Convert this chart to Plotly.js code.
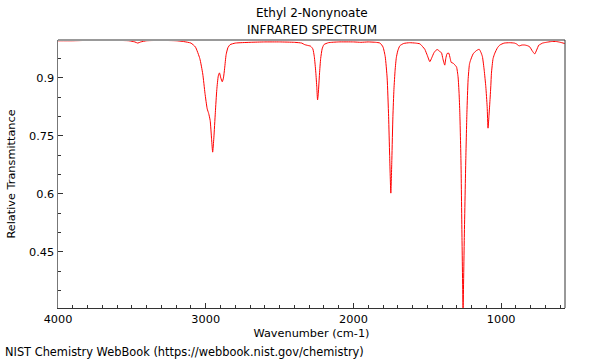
<!DOCTYPE html>
<html>
<head>
<meta charset="utf-8">
<script src="https://cdn.plot.ly/plotly-3.0.1.min.js"></script>
<style>html,body{margin:0;padding:0;background:#fff;}#chart{width:600px;height:360px;}</style>
</head>
<body>
<div id="chart"></div>
<script>
const wavenumber = [4000,3900,3800,3700,3600,3520,3480,3460,3440,3400,3300,3200,3150,3100,3070,3040,3020,3005,2990,2980,2970,2960,2953,2945,2935,2925,2915,2907,2898,2888,2880,2872,2862,2850,2835,2800,2700,2600,2500,2400,2350,2330,2310,2290,2275,2265,2255,2248,2243,2238,2230,2222,2212,2200,2170,2100,2000,1950,1900,1850,1820,1800,1785,1772,1762,1755,1747,1740,1733,1726,1718,1710,1700,1686,1660,1620,1580,1550,1530,1517,1500,1483,1470,1455,1440,1430,1415,1404,1395,1382,1375,1366,1355,1345,1338,1325,1310,1302,1292,1285,1280,1272,1265,1258,1250,1240,1232,1224,1215,1208,1190,1170,1149,1137,1127,1115,1104,1095,1089,1083,1077,1070,1066,1055,1043,1025,1009,980,942,910,897,880,874,860,840,820,806,790,773,760,745,739,720,694,660,626,600,570];
const transmittance = [0.996,0.996,0.997,0.997,0.997,0.996,0.993,0.990,0.993,0.996,0.997,0.996,0.994,0.990,0.980,0.950,0.910,0.860,0.820,0.808,0.790,0.740,0.708,0.745,0.810,0.870,0.905,0.913,0.900,0.890,0.900,0.925,0.960,0.978,0.986,0.990,0.992,0.993,0.993,0.992,0.990,0.986,0.984,0.982,0.975,0.955,0.915,0.875,0.843,0.860,0.910,0.950,0.975,0.986,0.991,0.993,0.993,0.992,0.993,0.992,0.990,0.980,0.955,0.900,0.800,0.700,0.602,0.690,0.800,0.870,0.920,0.952,0.970,0.983,0.989,0.991,0.990,0.988,0.980,0.974,0.958,0.942,0.952,0.965,0.972,0.973,0.968,0.965,0.950,0.933,0.950,0.963,0.964,0.950,0.940,0.938,0.932,0.928,0.903,0.860,0.810,0.680,0.480,0.305,0.480,0.680,0.810,0.895,0.935,0.945,0.962,0.970,0.974,0.966,0.955,0.920,0.877,0.826,0.770,0.800,0.835,0.880,0.912,0.950,0.964,0.978,0.985,0.990,0.991,0.990,0.988,0.983,0.983,0.985,0.985,0.983,0.980,0.970,0.962,0.972,0.985,0.986,0.990,0.992,0.994,0.994,0.992,0.989];
const xTickVals = [4000,3000,2000,1000];
const xTickText = ['4000','3000','2000','1000'];
const yTickVals = [0.45,0.6,0.75,0.9];
const yTickText = ['0.45','0.6','0.75','0.9'];
const titleLine1 = 'Ethyl 2-Nonynoate';
const titleLine2 = 'INFRARED SPECTRUM';
const xTitle = 'Wavenumber (cm-1)';
const yTitle = 'Relative Transmittance';
const footer = 'NIST Chemistry WebBook (https://webbook.nist.gov/chemistry)';

const L = 58, R = 35, T = 40, B = 52;
const PW = 600 - L - R, PH = 360 - T - B;
const font = {family: 'DejaVu Sans', size: 11.3, color: '#000'};
const tfont = {family: 'DejaVu Sans', size: 12, color: '#000'};
const trace = {
  x: wavenumber, y: transmittance, type: 'scatter', mode: 'lines',
  line: {color: '#ff0000', width: 1, shape: 'spline', smoothing: 0.5},
  hoverinfo: 'skip'
};
const layout = {
  width: 600, height: 360,
  margin: {l: L, r: R, t: T, b: B, pad: 0},
  paper_bgcolor: '#fff', plot_bgcolor: '#fff',
  font: font,
  showlegend: false,
  title: {text: ''},
  xaxis: {
    range: [4000, 568], showgrid: false, zeroline: false,
    showline: true, linecolor: '#333', linewidth: 1,
    tickmode: 'array', tickvals: xTickVals, ticktext: xTickText,
    ticks: 'inside', ticklen: 5, tickcolor: '#333', tickwidth: 1,
    minor: {dtick: 100, tick0: 0, ticks: 'inside', ticklen: 3, tickcolor: '#333', tickwidth: 1, showgrid: false},
    tickfont: font,
    title: {text: xTitle, font: font, standoff: 4}
  },
  yaxis: {
    range: [0.305, 0.998], showgrid: false, zeroline: false,
    showline: true, linecolor: '#777', linewidth: 1.5,
    tickmode: 'array', tickvals: yTickVals, ticktext: yTickText,
    ticks: 'inside', ticklen: 5, tickcolor: '#333', tickwidth: 1,
    minor: {dtick: 0.05, tick0: 0.3, ticks: 'inside', ticklen: 3, tickcolor: '#333', tickwidth: 1, showgrid: false},
    tickfont: font,
    title: {text: yTitle, font: font, standoff: 11}
  },
  shapes: [
    {type: 'line', xref: 'paper', yref: 'paper', x0: 0, x1: 1, y0: 1, y1: 1, line: {color: '#999', width: 2}},
    {type: 'line', xref: 'paper', yref: 'paper', x0: 1, x1: 1, y0: 0, y1: 1, line: {color: '#333', width: 1}}
  ],
  annotations: [
    {text: titleLine1, xref: 'paper', yref: 'paper', x: 0.5, y: (308 - 13) / PH, xanchor: 'center', yanchor: 'middle',
     showarrow: false, font: tfont},
    {text: titleLine2, xref: 'paper', yref: 'paper', x: 0.5, y: (308 - 30) / PH, xanchor: 'center', yanchor: 'middle',
     showarrow: false, font: tfont},
    {text: footer, xref: 'paper', yref: 'paper', x: -(L - 3) / PW, y: (308 - 352) / PH, xanchor: 'left', yanchor: 'middle',
     showarrow: false, font: {family: 'DejaVu Sans', size: 11.4, color: '#000'}}
  ]
};
Plotly.newPlot('chart', [trace], layout, {displayModeBar: false, staticPlot: true});
</script>
</body>
</html>
